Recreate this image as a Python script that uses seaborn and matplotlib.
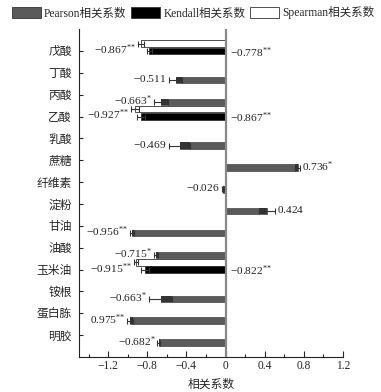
import matplotlib
matplotlib.use("Agg")
import matplotlib.pyplot as plt
import seaborn as sns
import numpy as np
import pandas as pd
from matplotlib.patches import Patch
from matplotlib.ticker import MultipleLocator

# categories, top to bottom
categories = ["戊酸", "丁酸", "丙酸", "乙酸", "乳酸", "蔗糖", "纤维素",
              "淀粉", "甘油", "油酸", "玉米油", "铵根", "蛋白胨", "明胶"]

pearson = [np.nan, -0.511, -0.663, np.nan, -0.469, 0.736, -0.026,
           0.424, -0.956, -0.715, np.nan, -0.663, -0.975, -0.682]
pearson_err = [np.nan, 0.07, 0.07, np.nan, 0.11, 0.03, 0.01,
               0.085, 0.02, 0.02, np.nan, 0.12, 0.03, 0.015]
pearson_labels = ["", "-0.511", "-0.663^{*}", "", "-0.469", "0.736^{*}", "-0.026",
                  "0.424", "-0.956^{**}", "-0.715^{*}", "", "-0.663^{*}", "0.975^{**}", "-0.682^{*}"]

kendall = [-0.778, np.nan, np.nan, -0.867, np.nan, np.nan, np.nan,
           np.nan, np.nan, np.nan, -0.822, np.nan, np.nan, np.nan]
kendall_err = [0.03, np.nan, np.nan, 0.04, np.nan, np.nan, np.nan,
               np.nan, np.nan, np.nan, 0.04, np.nan, np.nan, np.nan]
kendall_labels = ["-0.778^{**}", "", "", "-0.867^{**}", "", "", "",
                  "", "", "", "-0.822^{**}", "", "", ""]

spearman = [-0.867, np.nan, np.nan, -0.927, np.nan, np.nan, np.nan,
            np.nan, np.nan, np.nan, -0.915, np.nan, np.nan, np.nan]
spearman_err = [0.03, np.nan, np.nan, 0.04, np.nan, np.nan, np.nan,
                np.nan, np.nan, np.nan, 0.02, np.nan, np.nan, np.nan]
spearman_labels = ["-0.867^{**}", "", "", "-0.927^{**}", "", "", "",
                   "", "", "", "-0.915^{**}", "", "", ""]

P, K, S = "Pearson相关系数", "Kendall相关系数", "Spearman相关系数"
colors = {P: "#5a5a5a", K: "#000000", S: "#ffffff"}
series = {P: (pearson, pearson_err, pearson_labels),
          K: (kendall, kendall_err, kendall_labels),
          S: (spearman, spearman_err, spearman_labels)}

rows = []
for m, (vals, errs, labs) in series.items():
    for c, v, e, l in zip(categories, vals, errs, labs):
        if not np.isnan(v):
            rows.append({"category": c, "method": m, "value": v, "err": e, "label": l})
df = pd.DataFrame(rows)


def math_label(s):
    # keep the significance stars tight together in the superscript
    return "$" + s.replace("**", "{*}{*}") + "$"


sns.set_style("ticks")
plt.rcParams["font.family"] = ["Liberation Serif", "Noto Sans CJK SC"]
plt.rcParams["mathtext.fontset"] = "custom"
plt.rcParams["mathtext.rm"] = "Liberation Serif"
plt.rcParams["mathtext.default"] = "rm"

fig = plt.figure(figsize=(3.81, 3.92), dpi=100)
ax = fig.add_axes([0.207, 0.089, 0.693, 0.837])

hue_order = [S, K, P]
sns.barplot(data=df, x="value", y="category", hue="method", order=categories,
            hue_order=hue_order, orient="h", width=1.0, gap=0.12,
            palette=colors, edgecolor="#333333", linewidth=0.6,
            errorbar=None, legend=False, ax=ax)

fs = 8.2
# small vertical nudges of the value labels, as in the original
nudge = {P: -0.12, K: 0.0, S: 0.2}
for cont, m in zip(ax.containers, hue_order):
    sub = df[df["method"] == m]
    for bar in cont:
        yc = bar.get_y() + bar.get_height() / 2
        v = bar.get_width()
        r = sub[sub["category"] == categories[int(round(yc))]].iloc[0]
        e = r["err"]
        if m == P:
            bar.set_edgecolor("#555555")
            # darker inner part of the error bar
            left = v if v < 0 else v - e
            ax.barh(yc, e, left=left, height=bar.get_height(), color="#333333", lw=0)
        ax.errorbar(v, yc, xerr=e, fmt="none", ecolor="#333333", elinewidth=0.8,
                    capsize=2, capthick=0.8)
        txt = math_label(r["label"])
        ty = yc + nudge[m]
        if m == K:
            ax.text(0.05, ty, txt, ha="left", va="center_baseline", fontsize=fs, color="#222222")
        elif v < 0:
            ax.text(v - e - 0.02, ty, txt, ha="right", va="center_baseline", fontsize=fs, color="#222222")
        else:
            ax.text(v + e + 0.02, ty, txt, ha="left", va="center_baseline", fontsize=fs, color="#222222")

ax.axvline(0, color="#888888", lw=1.6, zorder=3)

ax.set_xlim(-1.5, 1.2)
ax.set_ylim(14, -1)
ax.xaxis.set_minor_locator(MultipleLocator(0.2))
ticks = [-1.2, -0.8, -0.4, 0, 0.4, 0.8, 1.2]
ax.set_xticks(ticks)
ax.set_xticklabels(["\u22121.2", "\u22120.8", "\u22120.4", "0", "0.4", "0.8", "1.2"])
ax.tick_params(axis="x", which="major", direction="in", length=4, width=0.8, pad=2, labelsize=8.3)
ax.tick_params(axis="x", which="minor", direction="in", length=2, width=0.8)
ax.tick_params(axis="y", direction="in", length=3, width=0.8, pad=5, labelsize=8.5)
ax.set_xlabel("相关系数", fontsize=8.5, labelpad=5)
ax.set_ylabel("")
sns.despine(ax=ax)
for s in ["left", "bottom"]:
    ax.spines[s].set_linewidth(0.8)
    ax.spines[s].set_color("#222222")

handles = [Patch(facecolor=colors[m], edgecolor="#333333", lw=0.6) for m in [P, K, S]]
fig.legend(handles, [P, K, S], ncol=3, loc="center", bbox_to_anchor=(0.507, 0.967),
           frameon=False, handlelength=2.5, handleheight=1.1, handletextpad=0.3,
           columnspacing=0.4, fontsize=8.3)

fig.savefig("out.png", dpi=100)
